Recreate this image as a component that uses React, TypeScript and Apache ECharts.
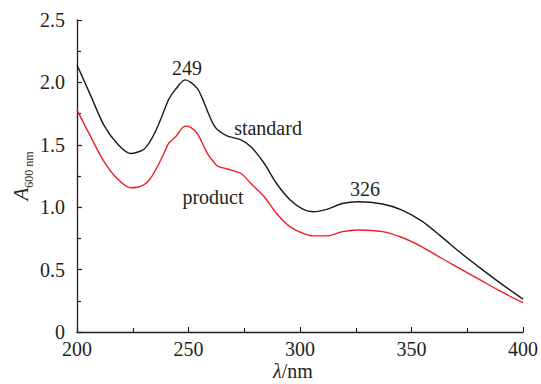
import React, { useEffect, useRef } from "react";
import * as echarts from "echarts";

const wlStandard = [200, 206, 212, 218, 224, 227, 230, 232.5, 235, 239, 241, 244, 248.5, 251, 254, 256, 258.5, 261, 263, 267.5, 273.5, 278, 284, 289.5, 295.5, 301.5, 306, 312, 319, 326, 337, 345.5, 354.5, 363, 372, 381, 390, 400];
const absStandard = [2.14, 1.9, 1.66, 1.51, 1.43, 1.44, 1.465, 1.52, 1.6, 1.77, 1.86, 1.94, 2.02, 2.0, 1.95, 1.88, 1.77, 1.67, 1.62, 1.57, 1.54, 1.485, 1.35, 1.19, 1.06, 0.983, 0.964, 0.983, 1.03, 1.044, 1.026, 0.978, 0.89, 0.77, 0.635, 0.51, 0.39, 0.264];
const wlProduct = [200, 206, 212, 218, 224, 227, 230, 232.5, 235, 239, 241, 244, 248.5, 251, 254, 256, 258.5, 261, 263, 267.5, 273.5, 278, 284, 289.5, 295.5, 301.5, 306, 312, 319, 326, 337, 345.5, 354.5, 363, 372, 381, 390, 400];
const absProduct = [1.78, 1.57, 1.37, 1.23, 1.156, 1.16, 1.18, 1.22, 1.29, 1.43, 1.51, 1.56, 1.65, 1.64, 1.59, 1.52, 1.43, 1.37, 1.33, 1.306, 1.27, 1.19, 1.084, 0.95, 0.844, 0.79, 0.77, 0.77, 0.804, 0.817, 0.804, 0.759, 0.684, 0.595, 0.505, 0.415, 0.325, 0.235];

const annotations = [
  { text: "249", x: 187, y: 68 },
  { text: "standard", x: 268, y: 128 },
  { text: "product", x: 213, y: 197 },
  { text: "326", x: 365, y: 189 },
];

const FONT = "Liberation Serif";
const TXT = "#231f20";

export default function App() {
  const ref = useRef<HTMLDivElement>(null);
  useEffect(() => {
    if (!ref.current) return;
    const chart = echarts.init(ref.current, null, { renderer: "svg" });
    const axisCommon = {
      axisLine: { show: true, lineStyle: { color: "#231f20", width: 1.3 } },
      axisTick: { show: true, inside: true, length: 5, lineStyle: { color: "#231f20", width: 1.2 } },
      minorTick: { show: true, splitNumber: 2, length: 4, lineStyle: { color: "#231f20", width: 1.2 } },
      splitLine: { show: false },
      axisLabel: { color: TXT, fontFamily: FONT, fontSize: 20 },
    };
    chart.setOption({
      animation: false,
      textStyle: { fontFamily: FONT },
      grid: { left: 77, right: 11, top: 20, bottom: 52, containLabel: false },
      xAxis: {
        type: "value",
        min: 200,
        max: 400,
        interval: 50,
        ...axisCommon,
        axisLabel: { ...axisCommon.axisLabel, margin: 7 },
      },
      yAxis: {
        type: "value",
        min: 0,
        max: 2.5,
        interval: 0.5,
        ...axisCommon,
        axisLabel: {
          ...axisCommon.axisLabel,
          margin: 12,
          formatter: (v: number) => (v === 0 ? "0" : v.toFixed(1)),
        },
      },
      series: [
        {
          type: "line",
          name: "standard",
          data: wlStandard.map((w, i) => [w, absStandard[i]]),
          showSymbol: false,
          smooth: 0.3,
          lineStyle: { color: "#1a1a1a", width: 1.4 },
        },
        {
          type: "line",
          name: "product",
          data: wlProduct.map((w, i) => [w, absProduct[i]]),
          showSymbol: false,
          smooth: 0.3,
          lineStyle: { color: "#ee1c25", width: 1.4 },
        },
      ],
      graphic: [
        ...annotations.map((a) => ({
          type: "text",
          x: a.x,
          y: a.y,
          style: {
            text: a.text,
            fill: TXT,
            fontFamily: FONT,
            fontSize: 20,
            textAlign: "center",
            textVerticalAlign: "middle",
          },
        })),
        {
          type: "text",
          x: 293,
          y: 371,
          style: {
            text: "{i|λ}{n|/nm}",
            textAlign: "center",
            textVerticalAlign: "middle",
            rich: {
              i: { fontFamily: FONT, fontSize: 20, fontStyle: "italic", fill: TXT },
              n: { fontFamily: FONT, fontSize: 20, fill: TXT },
            },
          },
        },
        {
          type: "text",
          x: 21,
          y: 176,
          rotation: Math.PI / 2,
          style: {
            text: "{a|A}{s|600 nm}",
            textAlign: "center",
            textVerticalAlign: "middle",
            rich: {
              a: { fontFamily: FONT, fontSize: 21, fontStyle: "italic", fill: TXT, verticalAlign: "bottom" },
              s: { fontFamily: FONT, fontSize: 12, fill: TXT, verticalAlign: "bottom", padding: [0, 0, -3, 0] },
            },
          },
        },
      ],
    });
    return () => chart.dispose();
  }, []);
  return (
    <div
      ref={ref}
      style={{ position: "fixed", left: 0, top: 0, width: 541, height: 384, background: "#fff" }}
    />
  );
}
